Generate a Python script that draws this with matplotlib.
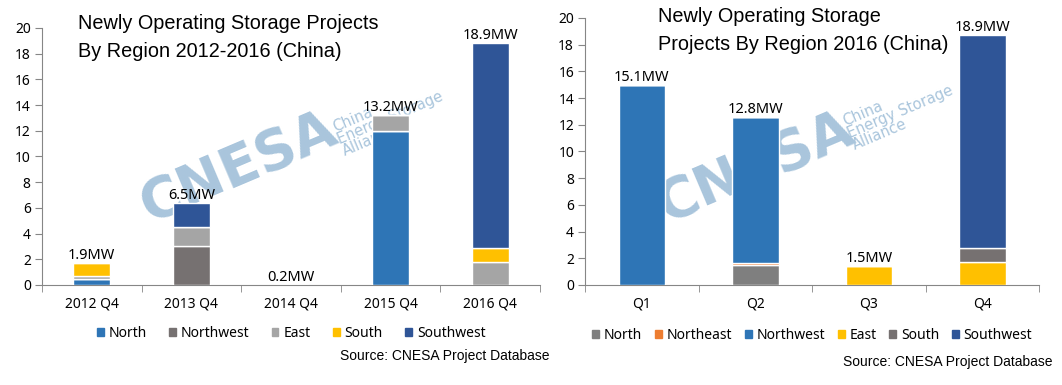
import matplotlib.pyplot as plt
from matplotlib.patches import Patch
import numpy as np

# ---- left chart data (MW) ----
years = ['2012 Q4', '2013 Q4', '2014 Q4', '2015 Q4', '2016 Q4']
left_regions = ['North', 'Northwest', 'East', 'South', 'Southwest']
left_values = {
    'North':     [0.45, 0.0, 0.0, 12.0, 0.0],
    'Northwest': [0.0, 3.0, 0.0, 0.0, 0.0],
    'East':      [0.25, 1.5, 0.0, 1.2, 1.8],
    'South':     [1.0, 0.0, 0.0, 0.0, 1.1],
    'Southwest': [0.0, 1.9, 0.0, 0.0, 15.9],
}
left_labels = ['1.9MW', '6.5MW', '0.2MW', '13.2MW', '18.9MW']

# ---- right chart data (MW) ----
quarters = ['Q1', 'Q2', 'Q3', 'Q4']
right_regions = ['North', 'Northeast', 'Northwest', 'East', 'South', 'Southwest']
right_values = {
    'North':     [0.0, 1.5, 0.0, 0.0],
    'Northeast': [0.0, 0.15, 0.0, 0.0],
    'Northwest': [15.0, 10.9, 0.0, 0.0],
    'East':      [0.0, 0.0, 1.45, 1.75],
    'South':     [0.0, 0.0, 0.0, 1.0],
    'Southwest': [0.0, 0.0, 0.0, 16.0],
}
right_labels = ['15.1MW', '12.8MW', '1.5MW', '18.9MW']

left_colors = {'North': '#2E75B6', 'Northwest': '#767171', 'East': '#A5A5A5',
               'South': '#FFC000', 'Southwest': '#2F5597'}
right_colors = {'North': '#7F7F7F', 'Northeast': '#ED7D31', 'Northwest': '#2E75B6',
                'East': '#FFC000', 'South': '#767171', 'Southwest': '#2F5597'}

plt.rcParams['font.family'] = 'Noto Sans'
fig = plt.figure(figsize=(10.62, 3.85), dpi=100)


def draw_panel(ax, cats, regions, values, colors, labels, width, colspace):
    x = np.arange(len(cats))
    bottom = np.zeros(len(cats))
    for r in regions:
        v = np.array(values[r])
        ax.bar(x, v, width, bottom=bottom, color=colors[r],
               edgecolor='white', linewidth=1.0, zorder=3)
        bottom += v
    # total labels just above each stack
    for xi, top, lab in zip(x, bottom, labels):
        ax.annotate(lab, (xi, top), xytext=(0, 0), textcoords='offset points',
                    ha='center', va='bottom', fontsize=10.5, zorder=4,
                    annotation_clip=False)
    ax.set_ylim(0, 20)
    ax.set_yticks(range(0, 21, 2))
    ax.set_xlim(-0.5, len(cats) - 0.5)
    ax.set_xticks(x)
    ax.set_xticklabels(cats)
    ax.set_xticks(np.arange(len(cats) + 1) - 0.5, minor=True)
    ax.tick_params(axis='x', which='major', length=0, pad=8, labelsize=10)
    ax.tick_params(axis='x', which='minor', length=5, color='#868686')
    ax.tick_params(axis='y', length=5, color='#868686', labelsize=10, pad=3)
    for s in ['top', 'right']:
        ax.spines[s].set_visible(False)
    for s in ['left', 'bottom']:
        ax.spines[s].set_color('#868686')
    handles = [Patch(color=colors[r], label=r) for r in regions]
    ax.legend(handles=handles, loc='center', bbox_to_anchor=(0.5, -0.19),
              ncol=len(regions), frameon=False, fontsize=10,
              handlelength=0.5, handleheight=0.5, handletextpad=0.35,
              columnspacing=colspace)


def watermark(cx, cy, sx, sy):
    fig.text(cx, cy, 'CNESA', fontsize=40, fontweight='bold', color='#a9c5dc',
             rotation=23, ha='center', va='center', zorder=1,
             family='DejaVu Sans')
    fig.text(sx, sy, 'China\nEnergy Storage\nAlliance', fontsize=10.5,
             color='#a9c5dc', rotation=23, ha='left', va='center',
             linespacing=0.85, zorder=1, family='DejaVu Sans')


ax1 = fig.add_axes([0.0395, 0.26, 0.469, 0.6675])
ax1.patch.set_alpha(0)
draw_panel(ax1, years, left_regions, left_values, left_colors, left_labels, 0.37, 1.6)

ax2 = fig.add_axes([0.551, 0.26, 0.4275, 0.6935])
ax2.patch.set_alpha(0)
draw_panel(ax2, quarters, right_regions, right_values, right_colors, right_labels, 0.41, 0.9)

# watermarks behind the bars
watermark(238 / 1062, 1 - 168 / 385, 330 / 1062, 1 - 118 / 385)
watermark(755 / 1062, 1 - 168 / 385, 840 / 1062, 1 - 112 / 385)
ax1.set_zorder(2)
ax2.set_zorder(2)

# titles
fig.text(78 / 1062, 1 - 14 / 385, 'Newly Operating Storage Projects\nBy Region 2012-2016 (China)',
         fontsize=14.3, family='Liberation Sans', ha='left', va='top', linespacing=1.6)
fig.text(658 / 1062, 1 - 7 / 385, 'Newly Operating Storage\nProjects By Region 2016 (China)',
         fontsize=14.3, family='Liberation Sans', ha='left', va='top', linespacing=1.6)

# sources
fig.text(340 / 1062, 1 - 356 / 385, 'Source: CNESA Project Database', fontsize=10,
         family='Liberation Sans', ha='left', va='center')
fig.text(843 / 1062, 1 - 362 / 385, 'Source: CNESA Project Database', fontsize=10,
         family='Liberation Sans', ha='left', va='center')

fig.savefig('out.png', dpi=100)
